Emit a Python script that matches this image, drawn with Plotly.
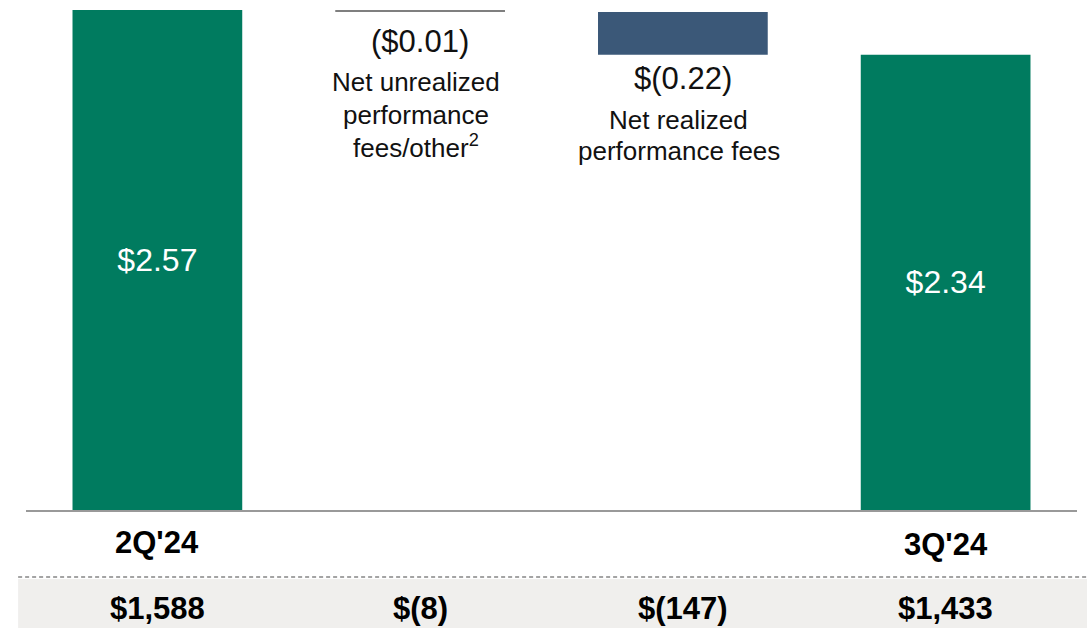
import plotly.graph_objects as go

# ---- data ----
categories = ["2Q'24", "Net unrealized performance fees/other", "Net realized performance fees", "3Q'24"]
axis_labels = ["2Q'24", "", "", "3Q'24"]
eps_values = [2.57, -0.01, -0.22, 2.34]
measures = ["total", "relative", "relative", "total"]
value_labels = ["$2.57", "($0.01)", "$(0.22)", "$2.34"]
description_lines = [[], ["Net unrealized", "performance", "fees/other<sup>2</sup>"], ["Net realized", "performance fees"], []]
bottom_values = ["$1,588", "$(8)", "$(147)", "$1,433"]

# ---- styles ----
GREEN = "#007B5F"
NAVY = "#3B5878"
GREY_BAR = "#7F7F7F"
FONT = "Liberation Sans, Arial, sans-serif"

xs = list(range(len(categories)))

# compute waterfall bases/heights
bases, heights = [], []
running = 0.0
for v, m in zip(eps_values, measures):
    if m == "total":
        bases.append(0.0)
        heights.append(v)
        running = v
    else:
        bases.append(running + v)
        heights.append(-v)
        running = running + v

fig = go.Figure()

tot_idx = [i for i, m in enumerate(measures) if m == "total"]
fig.add_trace(go.Bar(
    x=[xs[i] for i in tot_idx], y=[heights[i] for i in tot_idx], base=[bases[i] for i in tot_idx],
    marker=dict(color=GREEN, line=dict(width=0)), width=0.646,
    text=[value_labels[i] for i in tot_idx], textposition="inside", insidetextanchor="middle",
    textfont=dict(color="white", size=32, family=FONT), textangle=0, hoverinfo="skip",
))
rel_idx = [i for i, m in enumerate(measures) if m == "relative"]
rel_colors = [GREY_BAR if abs(eps_values[i]) < 0.05 else NAVY for i in rel_idx]
fig.add_trace(go.Bar(
    x=[xs[i] for i in rel_idx], y=[heights[i] for i in rel_idx], base=[bases[i] for i in rel_idx],
    marker=dict(color=rel_colors, line=dict(width=0)), width=0.646, hoverinfo="skip",
))

annotations = []
# labels below negative bars
label_shift = {1: -30, 2: -24}
desc_shifts = {1: [-70, -103, -135], 2: [-65, -96]}
for i in rel_idx:
    bottom = bases[i]
    annotations.append(dict(x=xs[i], y=bottom, xref="x", yref="y", text=value_labels[i],
                            showarrow=False, yanchor="middle", yshift=label_shift[i],
                            font=dict(size=31, color="#111111", family=FONT)))
    for line, sh in zip(description_lines[i], desc_shifts[i]):
        annotations.append(dict(x=xs[i], y=bottom, xref="x", yref="y", text=line,
                                showarrow=False, yanchor="middle", yshift=sh, xshift=-4,
                                font=dict(size=26, color="#111111", family=FONT)))

# category labels under axis
cat_shift = {0: -32, 3: -34}
for i, lab in enumerate(axis_labels):
    if lab:
        annotations.append(dict(x=xs[i], y=0, xref="x", yref="paper", text=f"<b>{lab}</b>",
                                showarrow=False, yanchor="middle", yshift=cat_shift[i],
                                font=dict(size=31, color="#000000", family=FONT)))

# bottom row values
for i, val in enumerate(bottom_values):
    annotations.append(dict(x=xs[i], y=0, xref="x", yref="paper", text=f"<b>{val}</b>",
                            showarrow=False, yanchor="middle", yshift=-98,
                            font=dict(size=31, color="#000000", family=FONT)))

PLOT_H = 510.0
shapes = [
    dict(type="rect", xref="paper", yref="paper", x0=-0.0075, x1=1.02,
         y0=-(579 - 510) / PLOT_H, y1=-(640 - 510) / PLOT_H,
         fillcolor="#F0EFED", line=dict(width=0), layer="below"),
    dict(type="line", xref="paper", yref="paper", x0=-0.0075, x1=1.009,
         y0=-(577 - 510) / PLOT_H, y1=-(577 - 510) / PLOT_H,
         line=dict(color="#4A4A4A", width=1.2, dash="4px,3px")),
]

fig.update_layout(
    width=1087, height=628,
    margin=dict(l=25.5, r=9.5, t=0, b=118),
    paper_bgcolor="white", plot_bgcolor="white",
    showlegend=False, barmode="overlay",
    font=dict(family=FONT),
    xaxis=dict(range=[-0.5, 3.5], showticklabels=False, ticks="", showgrid=False, zeroline=False,
               showline=True, linecolor="#999999", linewidth=2, fixedrange=True),
    yaxis=dict(range=[0, 2.57 * 510 / 500], visible=False, showgrid=False, zeroline=False, fixedrange=True),
    annotations=annotations, shapes=shapes,
)

fig.write_html("out.html", config={"displayModeBar": False},
               post_script="document.body.style.margin='0px';document.body.style.overflow='hidden';")
